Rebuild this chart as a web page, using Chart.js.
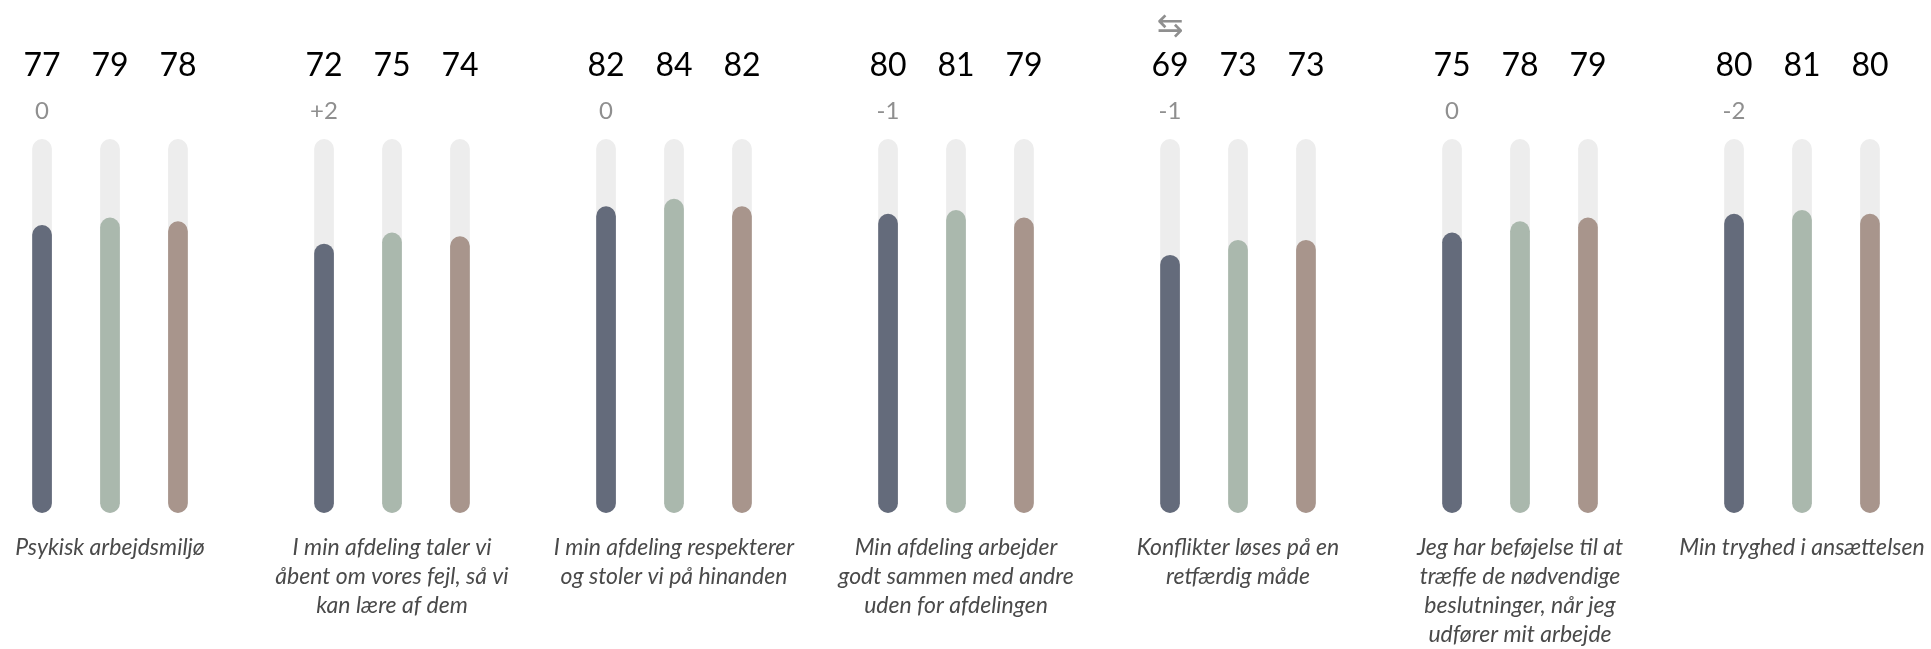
<!DOCTYPE html>
<html>
<head>
<meta charset="utf-8">
<script src="https://cdn.jsdelivr.net/npm/chart.js@4/dist/chart.umd.min.js"></script>
<style>
    body { margin: 0; background: #fff; }
    #wrap { width: 1931px; height: 649px; position: relative; }
</style>
</head>
<body>
<div id="wrap"><canvas id="chart"></canvas></div>
<script>
// categories (question texts, already wrapped as in the report)
const categories = [
    ["Psykisk arbejdsmiljø"],
    ["I min afdeling taler vi", "åbent om vores fejl, så vi", "kan lære af dem"],
    ["I min afdeling respekterer", "og stoler vi på hinanden"],
    ["Min afdeling arbejder", "godt sammen med andre", "uden for afdelingen"],
    ["Konflikter løses på en", "retfærdig måde"],
    ["Jeg har beføjelse til at", "træffe de nødvendige", "beslutninger, når jeg", "udfører mit arbejde"],
    ["Min tryghed i ansættelsen"]
]

const seriesA = [77, 72, 82, 80, 69, 75, 80]
const seriesB = [79, 75, 84, 81, 73, 78, 81]
const seriesC = [78, 74, 82, 79, 73, 79, 80]
const changes = ["0", "+2", "0", "-1", "-1", "0", "-2"]
const swapped = [false, false, false, false, true, false, false]
const scaleMax = 100
const track = categories.map(() => scaleMax)

const colors = ['#646b7b', '#aab8ad', '#a8958c']
const trackColor = '#ededed'
const fontFamily = "'Trebuchet MS', Lato, sans-serif"

const barOpts = {
    categoryPercentage: 0.723,
    barPercentage: 0.29,
    borderRadius: 10,
    borderSkipped: false,
    clip: false,
}

const labelPlugin = {
    id: 'labels',
    afterDatasetsDraw(chart) {
        const ctx = chart.ctx
        ctx.save()
        ctx.textAlign = 'center'
        ctx.textBaseline = 'alphabetic'
        const sets = [seriesA, seriesB, seriesC]
        sets.forEach((values, d) => {
            const meta = chart.getDatasetMeta(d)
            meta.data.forEach((bar, i) => {
                ctx.fillStyle = '#000'
                ctx.font = `32px ${fontFamily}`
                ctx.fillText(values[i], bar.x, 76)
                if (d === 0) {
                    ctx.fillStyle = '#8f8f8f'
                    ctx.font = `24px ${fontFamily}`
                    ctx.fillText(changes[i], bar.x, 119)
                    if (swapped[i]) {
                        ctx.font = `32px 'DejaVu Sans', sans-serif`
                        ctx.fillText('\u21C6', bar.x, 36)
                    }
                }
            })
        })
        // question texts under each group
        const xScale = chart.scales.x
        ctx.fillStyle = '#4a4a4a'
        ctx.font = `italic 23px ${fontFamily}`
        categories.forEach((lines, i) => {
            const x = xScale.getPixelForValue(i)
            lines.forEach((line, l) => {
                ctx.fillText(line, x, 555 + l * 29)
            })
        })
        ctx.restore()
    }
}

new Chart(document.getElementById('chart'), {
    type: 'bar',
    data: {
        labels: categories.map(c => c.join(' ')),
        datasets: [
            { data: seriesA, backgroundColor: colors[0], stack: 'a', order: 1, ...barOpts },
            { data: seriesB, backgroundColor: colors[1], stack: 'b', order: 1, ...barOpts },
            { data: seriesC, backgroundColor: colors[2], stack: 'c', order: 1, ...barOpts },
            { data: track, backgroundColor: trackColor, stack: 'a', order: 2, ...barOpts },
            { data: track, backgroundColor: trackColor, stack: 'b', order: 2, ...barOpts },
            { data: track, backgroundColor: trackColor, stack: 'c', order: 2, ...barOpts },
        ]
    },
    options: {
        responsive: true,
        maintainAspectRatio: false,
        animation: false,
        layout: { padding: { top: 139, bottom: 136, left: 110, right: 129 } },
        plugins: { legend: { display: false }, tooltip: { enabled: false } },
        scales: {
            x: { display: false, offset: false },
            y: { display: false, min: 0, max: scaleMax, stacked: false }
        }
    },
    plugins: [labelPlugin]
})
</script>
</body>
</html>
